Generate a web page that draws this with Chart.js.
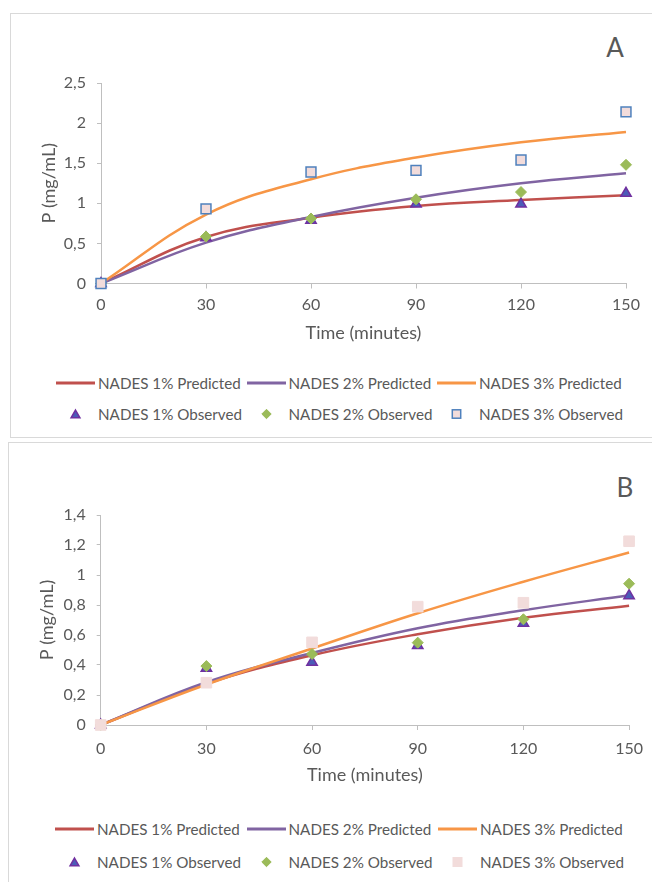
<!DOCTYPE html>
<html>
<head>
<meta charset="utf-8">
<title>NADES release kinetics</title>
<script src="https://cdn.jsdelivr.net/npm/chart.js@4.4.1/dist/chart.umd.min.js"></script>
<style>
  html, body { margin: 0; padding: 0; background: #fff; overflow: hidden; }
  body { position: relative; width: 652px; height: 882px; font-family: Lato, "Open Sans", sans-serif; color: #595959; }
  .frame { position: absolute; border: 1px solid #d9d9d9; box-sizing: border-box; }
  .panel-label { position: absolute; font-size: 26px; line-height: 1; transform: translate(-50%, -50%); }
  canvas { position: absolute; }
  .legend-item { position: absolute; height: 20px; display: flex; align-items: center; font-size: 15.2px; white-space: nowrap; }
  .legend-item svg { flex: none; margin-right: 3px; }
</style>
</head>
<body>
<div class="frame" style="left:10px;top:13px;width:700px;height:425px"></div>
<div class="frame" style="left:8px;top:442px;width:700px;height:500px"></div>
<div class="panel-label" style="left:615px;top:47px">A</div>
<div class="panel-label" style="left:625px;top:487px">B</div>
<canvas id="chartA" width="641" height="336" style="left:11px;top:14px"></canvas>
<canvas id="chartB" width="643" height="352" style="left:9px;top:443px"></canvas>
<div id="legendA"></div>
<div id="legendB"></div>

<script>
const timeMinutes = [0, 30, 60, 90, 120, 150];
const xTickLabels = ['0', '30', '60', '90', '120', '150'];
const yTickLabelsA = ['0', '0,5', '1', '1,5', '2', '2,5'];
const yTickLabelsB = ['0', '0,2', '0,4', '0,6', '0,8', '1', '1,2', '1,4'];

const seriesNames = [
  'NADES 1% Predicted', 'NADES 2% Predicted', 'NADES 3% Predicted',
  'NADES 1% Observed', 'NADES 2% Observed', 'NADES 3% Observed'
];

// panel A (mg/mL)
const predicted1A = [0, 0.58, 0.82, 0.965, 1.04, 1.10];
const predicted2A = [0, 0.51, 0.83, 1.07, 1.25, 1.375];
const predicted3A = [0, 0.86, 1.30, 1.57, 1.76, 1.89];
const observed1A = [0, 0.57, 0.79, 0.99, 0.99, 1.125];
const observed2A = [0, 0.585, 0.81, 1.05, 1.14, 1.48];
const observed3A = [0, 0.93, 1.39, 1.41, 1.54, 2.14];

// panel B (mg/mL)
const predicted1B = [0, 0.275, 0.465, 0.605, 0.715, 0.795];
const predicted2B = [0, 0.285, 0.48, 0.645, 0.765, 0.865];
const predicted3B = [0, 0.27, 0.51, 0.745, 0.955, 1.15];
const observed1B = [0, 0.378, 0.418, 0.53, 0.678, 0.862];
const observed2B = [0, 0.393, 0.473, 0.549, 0.705, 0.942];
const observed3B = [0, 0.282, 0.551, 0.789, 0.815, 1.225];

const TEXT = '#595959';
const AXIS = '#bfbfbf';
Chart.defaults.font.family = 'Lato, "Open Sans", sans-serif';

const lineStyles = [
  { color: '#c0504d' },
  { color: '#8064a2' },
  { color: '#f79646' }
];

function markerStyles(squareBorder) {
  return [
    { pointStyle: 'triangle', radius: 6, fill: '#4b5cb8', stroke: '#7030a0', width: 1.5 },
    { pointStyle: 'rectRot', radius: 5.5, fill: '#9bbb59', stroke: '#9bbb59', width: 1 },
    squareBorder
      ? { pointStyle: 'rect', radius: 7, fill: '#f2dcdb', stroke: '#4f81bd', width: 1.5 }
      : { pointStyle: 'rect', radius: 7.5, fill: '#f2dcdb', stroke: '#f2dcdb', width: 1 }
  ];
}

const toPoints = values => timeMinutes.map((t, i) => ({ x: t, y: values[i] }));
const tickValue = label => parseFloat(label.replace(',', '.'));

function buildDatasets(predicted, observed, markers) {
  const lines = predicted.map((values, i) => ({
    label: seriesNames[i],
    data: toPoints(values),
    showLine: true,
    borderColor: lineStyles[i].color,
    backgroundColor: lineStyles[i].color,
    borderWidth: 2.5,
    pointRadius: 0,
    tension: 0.4,
    clip: false,
    order: 6 - i
  }));
  const points = observed.map((values, i) => ({
    label: seriesNames[i + 3],
    data: toPoints(values),
    showLine: false,
    pointStyle: markers[i].pointStyle,
    pointRadius: markers[i].radius,
    backgroundColor: markers[i].fill,
    borderColor: markers[i].stroke,
    pointBorderWidth: markers[i].width,
    clip: false,
    order: 3 - i
  }));
  return lines.concat(points);
}

function drawPanel(canvasId, datasets, yLabels, geo) {
  const yValues = yLabels.map(tickValue);
  return new Chart(document.getElementById(canvasId), {
    type: 'scatter',
    data: { datasets },
    options: {
      responsive: false,
      animation: false,
      events: [],
      layout: { padding: { top: geo.top, right: geo.right, left: 0, bottom: 0 } },
      plugins: { legend: { display: false }, tooltip: { enabled: false } },
      scales: {
        x: {
          type: 'linear',
          min: timeMinutes[0],
          max: timeMinutes[timeMinutes.length - 1],
          afterBuildTicks: scale => { scale.ticks = timeMinutes.map(v => ({ value: v })); },
          afterFit: scale => { scale.height = geo.xHeight; },
          ticks: {
            callback: (v, i) => xTickLabels[i],
            color: TEXT, font: { size: 16 }, padding: geo.xPad, maxRotation: 0
          },
          grid: { drawOnChartArea: false, drawTicks: true, tickLength: 5, tickColor: AXIS },
          border: { color: AXIS, width: 1 },
          title: {
            display: true, text: 'Time (minutes)', color: TEXT,
            font: { size: 18 }, padding: { top: 0, bottom: geo.titleBottom }
          }
        },
        y: {
          type: 'linear',
          min: yValues[0],
          max: yValues[yValues.length - 1],
          afterBuildTicks: scale => { scale.ticks = yValues.map(v => ({ value: v })); },
          afterFit: scale => { scale.width = geo.yWidth; },
          ticks: {
            callback: (v, i) => yLabels[i],
            color: TEXT, font: { size: 16 }, padding: 11
          },
          grid: { drawOnChartArea: false, drawTicks: true, tickLength: 4, tickColor: AXIS },
          border: { color: AXIS, width: 1 },
          title: {
            display: true, text: 'P (mg/mL)', color: TEXT,
            font: { size: 18 }, padding: { top: 27, bottom: 0 }
          }
        }
      }
    }
  });
}

// legend swatches are a little smaller than the plotted markers
function symbolSvg(ds) {
  const w = 39, h = 20, cx = w / 2, cy = h / 2;
  let shape;
  if (ds.showLine) {
    shape = `<line x1="0" y1="${cy}" x2="${w}" y2="${cy}" stroke="${ds.borderColor}" stroke-width="3"/>`;
  } else {
    const r = ds.pointRadius * 0.85;
    const paint = `fill="${ds.backgroundColor}" stroke="${ds.borderColor}" stroke-width="${ds.pointBorderWidth}"`;
    if (ds.pointStyle === 'triangle') {
      const pts = [0, 1, 2].map(k => {
        const a = k * 2 * Math.PI / 3;
        return `${cx + Math.sin(a) * r},${cy + 1.2 - Math.cos(a) * r}`;
      }).join(' ');
      shape = `<polygon points="${pts}" ${paint}/>`;
    } else if (ds.pointStyle === 'rectRot') {
      shape = `<polygon points="${cx - r},${cy} ${cx},${cy - r} ${cx + r},${cy} ${cx},${cy + r}" ${paint}/>`;
    } else {
      const s = r * Math.SQRT1_2;
      shape = `<rect x="${cx - s}" y="${cy - s}" width="${2 * s}" height="${2 * s}" ${paint}/>`;
    }
  }
  return `<svg width="${w}" height="${h}">${shape}</svg>`;
}

function drawLegend(containerId, datasets, geo) {
  const box = document.getElementById(containerId);
  seriesNames.forEach((name, i) => {
    const ds = datasets.find(d => d.label === name);
    const item = document.createElement('div');
    item.className = 'legend-item';
    item.style.left = (geo.legendLeft + (i % 3) * geo.legendPitch) + 'px';
    item.style.top = (geo.legendRows[Math.floor(i / 3)] - 10) + 'px';
    item.innerHTML = symbolSvg(ds) + `<span>${name}</span>`;
    box.appendChild(item);
  });
}

const geoA = { top: 69, right: 26, xHeight: 66.5, xPad: 7, titleBottom: 6, yWidth: 90,
  legendLeft: 56, legendPitch: 190.5, legendRows: [383, 414] };
const geoB = { top: 72, right: 22, xHeight: 70, xPad: 9, titleBottom: 9, yWidth: 91.7,
  legendLeft: 55, legendPitch: 191.5, legendRows: [829, 862] };

const datasetsA = buildDatasets(
  [predicted1A, predicted2A, predicted3A],
  [observed1A, observed2A, observed3A],
  markerStyles(true)
);
const datasetsB = buildDatasets(
  [predicted1B, predicted2B, predicted3B],
  [observed1B, observed2B, observed3B],
  markerStyles(false)
);

drawPanel('chartA', datasetsA, yTickLabelsA, geoA);
drawPanel('chartB', datasetsB, yTickLabelsB, geoB);
drawLegend('legendA', datasetsA, geoA);
drawLegend('legendB', datasetsB, geoB);
</script>
</body>
</html>
